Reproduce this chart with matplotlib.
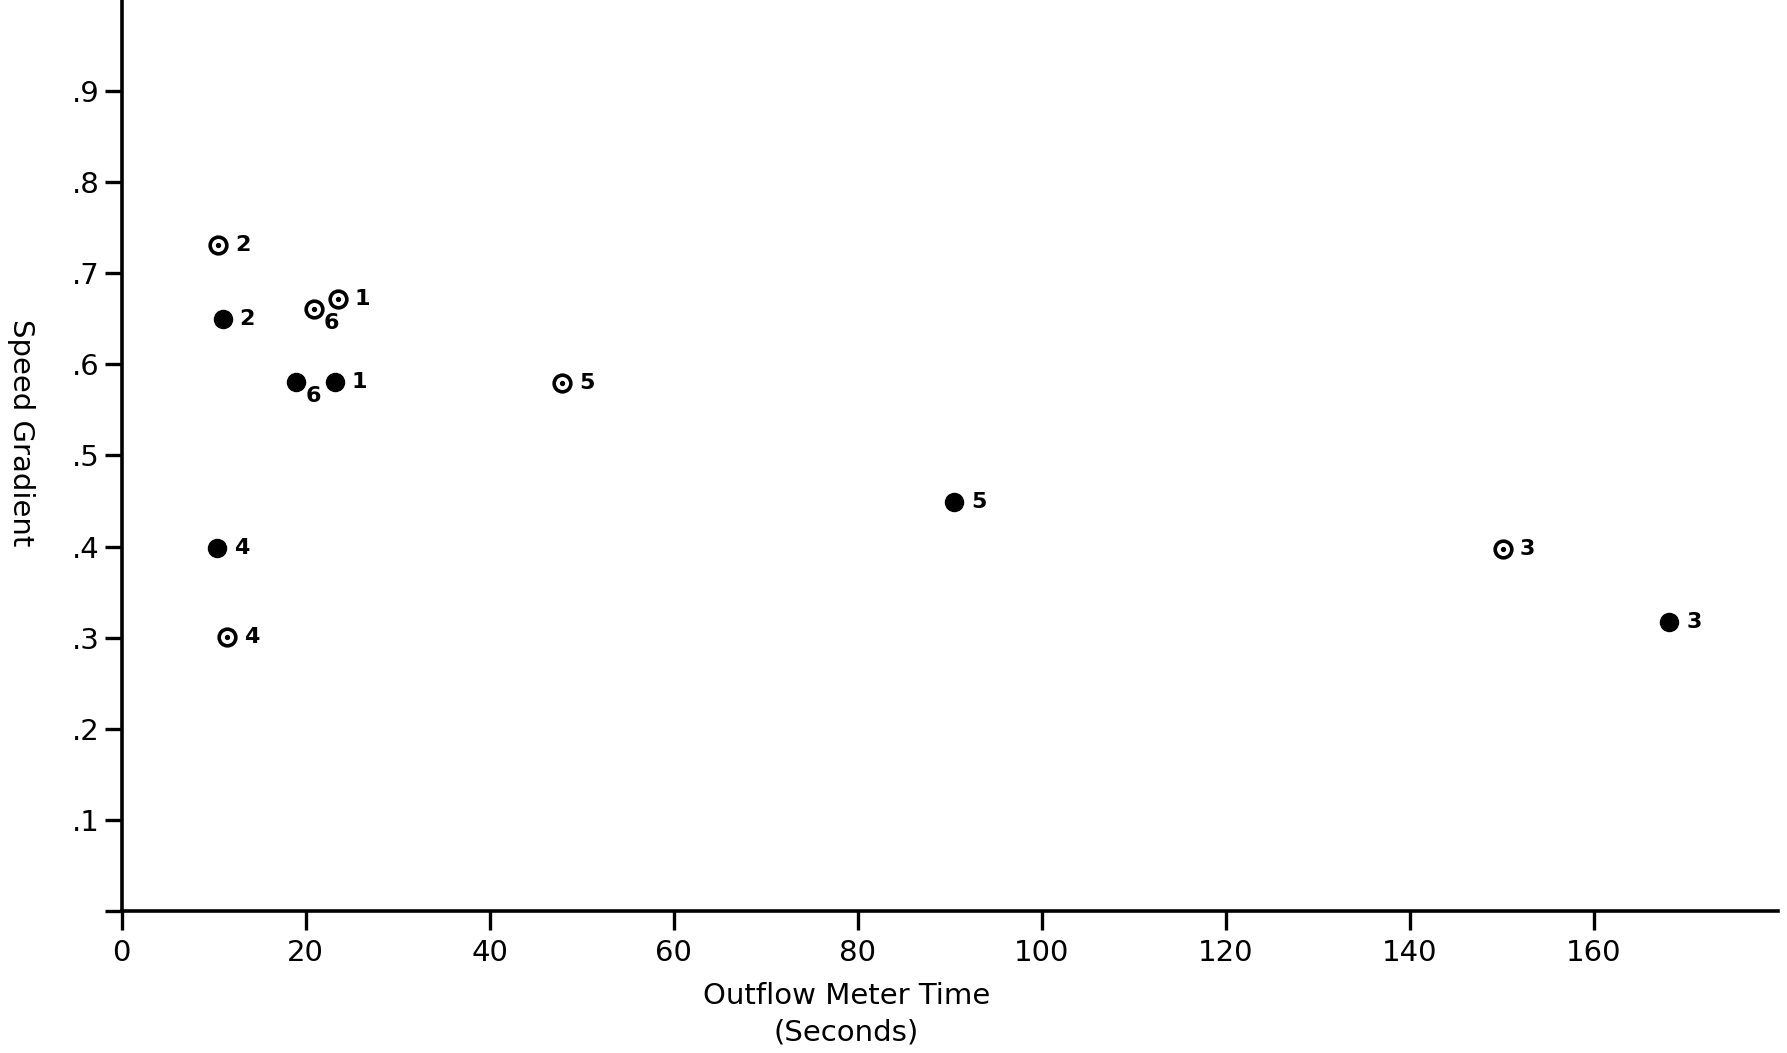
import numpy as np
import matplotlib
matplotlib.use("Agg")
import matplotlib.pyplot as plt

# filled circles
filled_x = [23.2, 11.0, 168.2, 10.4, 90.5, 19.0]
filled_y = [0.581, 0.650, 0.317, 0.398, 0.449, 0.581]
filled_lab = ["1", "2", "3", "4", "5", "6"]

# open circles (with centre dot)
open_x = [23.5, 10.5, 150.1, 11.5, 47.9, 20.9]
open_y = [0.672, 0.731, 0.397, 0.301, 0.580, 0.661]
open_lab = ["1", "2", "3", "4", "5", "6"]

xticks = [0, 20, 40, 60, 80, 100, 120, 140, 160]
yticks = [0.1, 0.2, 0.3, 0.4, 0.5, 0.6, 0.7, 0.8, 0.9]
ytick_labels = [".1", ".2", ".3", ".4", ".5", ".6", ".7", ".8", ".9"]

fig = plt.figure(figsize=(17.87, 10.53), dpi=100)
ax = fig.add_axes([0.068, 0.135, 0.927, 0.865])

ax.plot(filled_x, filled_y, 'o', color='black', markersize=13, zorder=3)
ax.plot(open_x, open_y, 'o', markerfacecolor='white', markeredgecolor='black',
        markeredgewidth=2.6, markersize=12, zorder=3)
ax.plot(open_x, open_y, 'o', color='black', markersize=2.8, zorder=4)

# label "6" sits below-right, the rest to the right
def put_labels(xs, ys, labs):
    for x, y, s in zip(xs, ys, labs):
        off = (7, -10) if s == "6" else (12, 0)
        ax.annotate(s, (x, y), xytext=off, textcoords='offset points',
                    ha='left', va='center', fontsize=16, fontweight='bold')

put_labels(filled_x, filled_y, filled_lab)
put_labels(open_x, open_y, open_lab)

ax.set_xlim(0, 180)
ax.set_ylim(0, 1.0)
ax.set_xticks(xticks)
ax.set_xticklabels([str(v) for v in xticks], fontsize=21)
ax.set_yticks([0] + yticks)
ax.set_yticklabels([""] + ytick_labels, fontsize=21)

for s in ['top', 'right']:
    ax.spines[s].set_visible(False)
for s in ['left', 'bottom']:
    ax.spines[s].set_linewidth(2.6)
ax.tick_params(axis='x', direction='out', length=14, width=2.4, pad=6)
ax.tick_params(axis='y', direction='out', length=12, width=2.4, pad=4)

ax.set_xlabel("Outflow Meter Time\n(Seconds)", fontsize=21, linespacing=1.4)
ax.xaxis.set_label_coords(0.4375, -0.078)
ax.xaxis.label.set_va('top')
ax.set_ylabel("Speed Gradient", fontsize=21, rotation=270)
ax.yaxis.set_label_coords(-0.069, 0.525)

fig.savefig("out.png", dpi=100, facecolor='white')
